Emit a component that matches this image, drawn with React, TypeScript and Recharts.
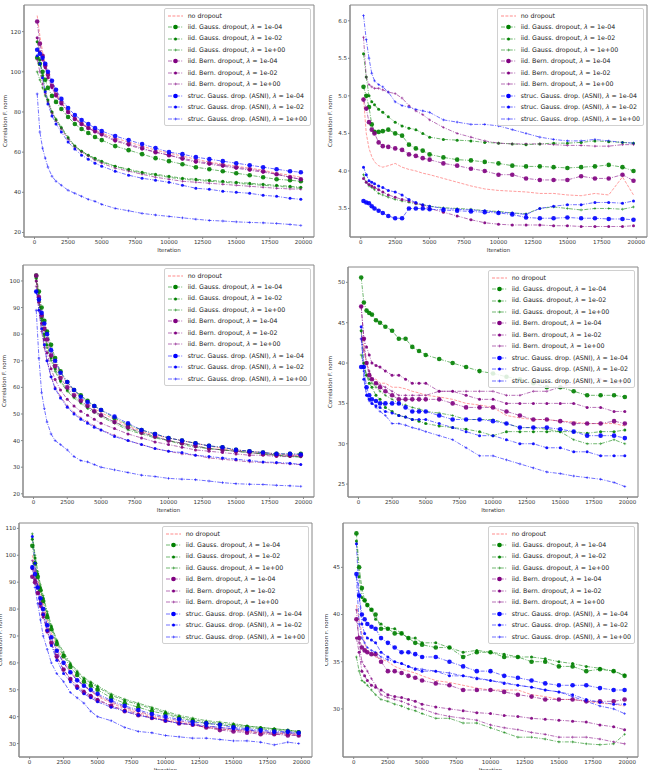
import { LineChart, Line, XAxis, YAxis, ReferenceArea, Legend } from "recharts";

const FONT = "'DejaVu Sans', sans-serif";

// iteration grid shared by every panel
const iterations = [200, 400, 600, 800, 1000, 1300, 1600, 2000, 2500, 3000, 3500, 4000, 4500, 5000, 6000, 7000, 8000, 9000, 10000, 11000, 12000, 13000, 14000, 15000, 16000, 17000, 18000, 19000, 19800];
const xTicks = [0, 2500, 5000, 7500, 10000, 12500, 15000, 17500, 20000];

const seriesKeys = ["noDrop", "g1e4", "g1e2", "g1e0", "b1e4", "b1e2", "b1e0", "s1e4", "s1e2", "s1e0"];
const seriesNames = [
  "no dropout",
  "iid. Gauss. dropout, λ = 1e-04",
  "iid. Gauss. dropout, λ = 1e-02",
  "iid. Gauss. dropout, λ = 1e+00",
  "iid. Bern. dropout, λ = 1e-04",
  "iid. Bern. dropout, λ = 1e-02",
  "iid. Bern. dropout, λ = 1e+00",
  "struc. Gauss. drop. (ASNI), λ = 1e-04",
  "struc. Gauss. drop. (ASNI), λ = 1e-02",
  "struc. Gauss. drop. (ASNI), λ = 1e+00",
];
const seriesColors = ["#ff3030", "#008000", "#008000", "#008000", "#800080", "#800080", "#800080", "#0000ff", "#0000ff", "#0000ff"];
const seriesMarkers = ["none", "big", "mid", "plus", "big", "mid", "plus", "big", "mid", "plus"];

// top left
const tlValues = [
  [128, 118, 110, 104, 99, 94, 89.5, 85, 80, 77, 74.5, 72.5, 71, 69.5, 67, 65, 63, 61, 59.5, 58, 56.5, 55, 54, 53, 52, 51, 49.5, 48.5, 47.5],
  [107, 104, 100, 96, 92, 88, 85, 81.5, 77.5, 74, 71.5, 69.5, 67.5, 66, 63, 61, 59, 57, 55.5, 54, 52.5, 51.5, 50.5, 49.5, 48.5, 47.5, 46.5, 46, 45.5],
  [115, 106, 98, 91, 86, 80, 76, 72, 67, 63, 60.5, 58.5, 57, 55.5, 53, 51.5, 50, 49, 48, 47, 46.5, 46, 45.5, 45, 44.5, 44, 43.5, 43, 42.5],
  [100, 96, 92, 88, 85, 80, 76.5, 72.5, 67.5, 63, 60.5, 58.5, 56.5, 55, 53, 51, 49.5, 48.5, 47.5, 46.5, 46, 45.5, 45, 44.5, 44, 43.5, 43, 42.5, 42],
  [125, 114, 108, 103, 98.5, 93, 88.5, 84.5, 80, 76.5, 74, 72, 70.5, 69, 66, 64, 62, 60, 58.5, 57, 55.5, 54.5, 53.5, 52.5, 51.5, 50.5, 49, 47.5, 46.5],
  [117, 110, 106, 102, 97, 92, 88, 84, 80, 76.5, 74, 72, 70, 68.5, 65.5, 63.5, 61.5, 60, 58.5, 56.5, 55, 54, 53, 52, 51, 50, 49, 47.5, 46.5],
  [106, 100, 94, 89, 85, 79.5, 75.5, 71.5, 66.5, 62.5, 60, 58, 56, 54.5, 52, 50.5, 49, 47.5, 46.5, 45.5, 45, 44.5, 44, 43.5, 43, 42.5, 42, 41.7, 41.5],
  [111, 109, 107, 104, 100, 95.5, 91, 86.5, 82, 78.5, 76, 74, 72, 70.5, 68, 66, 64, 62, 60, 59, 57.5, 56.5, 55.5, 54.5, 53.5, 52.5, 51.5, 50.5, 50],
  [108, 104, 97, 90, 84, 78, 74, 70, 65, 61.5, 58.5, 56.5, 54.5, 53, 50.5, 48.5, 47, 46, 45, 43.5, 42, 41.5, 40.5, 40, 39.5, 38.5, 38, 37, 36.5],
  [89, 70, 62, 57, 52.5, 48, 45.5, 43.5, 41, 39.5, 38, 36.5, 35.5, 34, 32, 30.8, 29.5, 28.7, 28, 27.3, 26.6, 26, 25.7, 25.3, 25, 24.8, 24.5, 24, 23.5],
];

// top right
const trValues = [
  [4.98, 4.5, 4.3, 4.19, 4.12, 4.07, 4.05, 4.07, 4.1, 4.05, 4.02, 4.0, 3.97, 3.95, 3.9, 3.85, 3.8, 3.76, 3.74, 3.73, 3.72, 3.7, 3.7, 3.68, 3.67, 3.7, 3.68, 3.92, 3.68],
  [5.12, 5.0, 4.85, 4.62, 4.52, 4.52, 4.53, 4.55, 4.5, 4.47, 4.35, 4.3, 4.27, 4.22, 4.18, 4.15, 4.14, 4.12, 4.1, 4.07, 4.06, 4.06, 4.05, 4.04, 4.05, 4.06, 4.08, 4.05, 4.0],
  [5.56, 5.25, 5.0, 4.92, 4.88, 4.82, 4.78, 4.72, 4.65, 4.6, 4.57, 4.55, 4.5, 4.45, 4.42, 4.41, 4.4, 4.38, 4.37, 4.36, 4.35, 4.36, 4.37, 4.37, 4.38, 4.4, 4.39, 4.38, 4.37],
  [3.95, 3.85, 3.8, 3.78, 3.75, 3.7, 3.68, 3.65, 3.62, 3.6, 3.58, 3.56, 3.55, 3.53, 3.51, 3.5, 3.49, 3.47, 3.46, 3.44, 3.43, 3.5, 3.52, 3.5, 3.48, 3.5, 3.5, 3.49, 3.52],
  [4.95, 4.83, 4.65, 4.55, 4.5, 4.38, 4.33, 4.32, 4.3, 4.28, 4.22, 4.2, 4.17, 4.15, 4.1, 4.07, 4.03, 4.0, 3.95, 3.95, 3.9, 3.88, 3.88, 3.88, 3.93, 3.9, 3.9, 3.95, 3.87],
  [3.9, 3.85, 3.82, 3.8, 3.78, 3.75, 3.72, 3.68, 3.65, 3.62, 3.6, 3.57, 3.54, 3.5, 3.45, 3.4, 3.35, 3.31, 3.29, 3.28, 3.28, 3.28, 3.27, 3.27, 3.26, 3.26, 3.26, 3.26, 3.27],
  [5.78, 5.25, 5.15, 5.12, 5.1, 5.1, 5.08, 5.05, 5.03, 4.97, 4.87, 4.8, 4.75, 4.68, 4.58, 4.5, 4.45, 4.4, 4.37, 4.36, 4.36, 4.36, 4.35, 4.34, 4.34, 4.33, 4.33, 4.35, 4.35],
  [3.6, 3.58, 3.57, 3.53, 3.5, 3.47, 3.44, 3.4, 3.37, 3.37, 3.5, 3.5, 3.5, 3.49, 3.48, 3.47, 3.46, 3.45, 3.44, 3.42, 3.38, 3.37, 3.37, 3.38, 3.37, 3.37, 3.36, 3.36, 3.35],
  [4.05, 3.95, 3.87, 3.85, 3.83, 3.8, 3.78, 3.74, 3.72, 3.68, 3.62, 3.58, 3.55, 3.53, 3.5, 3.49, 3.48, 3.47, 3.45, 3.44, 3.42, 3.5, 3.53, 3.55, 3.55, 3.58, 3.58, 3.57, 3.6],
  [6.07, 5.75, 5.5, 5.3, 5.2, 5.15, 5.12, 5.05, 4.92, 4.87, 4.85, 4.82, 4.8, 4.78, 4.68, 4.65, 4.62, 4.62, 4.6, 4.55, 4.5, 4.45, 4.42, 4.4, 4.4, 4.42, 4.4, 4.38, 4.37],
];

// middle left
const mlValues = [
  [101, 95, 88, 84, 80, 74, 70, 65, 61.5, 58.5, 56, 54, 52, 50.5, 48, 45.5, 43.5, 42, 41, 40, 39, 38, 37, 36.5, 36, 35.5, 35, 34.5, 34.5],
  [102, 96, 90, 85, 81, 76, 71, 66, 62, 59, 57, 55, 53, 51.5, 48.5, 46, 44, 42.5, 41, 40, 39, 38, 37.5, 36.5, 36, 35.5, 35, 35, 35],
  [101, 93, 86, 80, 76, 71, 67, 62.5, 59, 56.5, 54.5, 52.5, 51, 49.5, 47, 44.5, 43, 41.5, 40, 39, 38, 37, 36.5, 36, 35.5, 35, 34.5, 34, 34],
  [100, 92, 85, 79, 75, 70, 66, 62, 58.5, 56, 54, 52, 50.5, 49, 46.5, 44, 42.5, 41, 40, 38.5, 37.5, 37, 36.5, 36, 35.5, 35, 34.5, 34, 33.8],
  [102, 94, 87, 82, 78, 72, 68, 63.5, 60, 57, 55, 53, 51, 49.5, 47, 45, 43, 41.5, 40, 39, 38, 37, 36.5, 36, 35.5, 35, 34.5, 34.5, 34.5],
  [100, 92, 84, 78, 73, 67, 63, 59, 55.5, 53, 51, 49.5, 48, 46.5, 44.5, 42.5, 41, 39.5, 38.5, 37.5, 36.5, 36, 35.5, 35, 34.5, 34.5, 34, 34, 34],
  [98, 89, 81, 75, 70, 64, 60, 56.5, 53, 50.5, 48.5, 47, 45.5, 44, 42, 40, 38.5, 37, 36, 35, 34.5, 33.5, 33, 32.5, 32, 31.8, 31.5, 31.2, 31],
  [96, 93, 88, 84, 80, 74, 70, 65.5, 62, 59, 56.5, 54.5, 53, 51.5, 49, 46.5, 44, 42.5, 41, 40, 39, 38, 37.5, 36.5, 36, 35.5, 35, 35, 34.8],
  [96, 89, 82, 76, 70, 64, 59.5, 56, 52.5, 50, 48, 46.5, 45, 44, 41.5, 40, 38.5, 37, 36, 35.5, 34.5, 34, 33.5, 33, 32.5, 32, 31.8, 31.5, 31],
  [89, 71, 58, 52, 47, 42.5, 40, 38.5, 36.5, 34, 32.5, 32, 31, 30, 29, 28, 27, 26.5, 25.8, 25.5, 25.3, 24.8, 24.2, 23.8, 23.6, 23.5, 23.2, 23, 22.8],
];

// middle right
const mrValues = [
  [44, 42, 40, 39, 38, 38, 37.5, 37.5, 37, 37, 36.8, 36.5, 36.3, 36, 35.8, 35.5, 35, 34.8, 34.5, 33.5, 33.2, 33, 33, 32.8, 32.7, 32.5, 32.5, 32.5, 32.2],
  [50.6, 47.5, 46.5, 46.2, 46, 45.3, 45, 44.5, 44, 43, 43, 42, 41.5, 41, 40.5, 40, 39.5, 39, 38.7, 38.3, 38, 37.5, 37, 37, 36.5, 36, 36, 36, 35.8],
  [44, 40, 38.5, 37.5, 37, 36, 35.5, 34.5, 34, 33.5, 33.3, 33, 32.8, 32.5, 32.2, 32, 31.8, 31.5, 31, 31.5, 31.5, 31.5, 31.5, 31.5, 31.5, 31.3, 31.5, 31.5, 31.7],
  [41, 39.5, 38.5, 38, 37.5, 37, 36.5, 36, 35.5, 35, 34.8, 34.5, 34.3, 34, 33.8, 33.5, 33, 33, 33, 32.5, 32, 32, 31.8, 31.5, 30.5, 30, 30, 30.5, 30],
  [47, 43, 40, 38.5, 38, 37.5, 37, 36.5, 36, 35.5, 35.5, 35.5, 35.5, 35.5, 35.5, 35, 34.5, 34.5, 34.5, 34, 33.5, 33, 33, 32.8, 32.5, 32.5, 32.5, 32.8, 32.5],
  [47, 43, 42, 41, 40, 39.7, 39.5, 39, 38.5, 38.5, 38, 37.5, 37.5, 37.5, 36.5, 36.5, 36, 35.5, 35.5, 35, 35, 35, 35, 35, 35, 34.5, 34.5, 34, 34],
  [43, 41.5, 40, 39, 38, 37.5, 37.3, 37, 36.5, 36, 36, 36, 36, 36, 36.5, 36.5, 36.5, 36.5, 36.5, 36, 36, 36.5, 36.5, 37, 37.5, 38, 38, 37.5, 37.5],
  [39.5, 39.5, 37, 36, 35.5, 35.3, 35, 35, 35, 35, 34.5, 34, 34, 34, 33.5, 33, 33, 33, 32.8, 32.5, 32, 32, 32, 31.8, 31.5, 31, 31, 31, 30.7],
  [44.5, 38, 36, 35.5, 35, 34.7, 34.5, 34, 33.8, 33.5, 33.3, 33, 33, 33, 32.5, 32, 31.5, 31, 31, 30.5, 30, 30, 29.5, 29.5, 29, 29, 28.5, 28.5, 28.5],
  [43, 39, 36, 35.3, 35, 34.5, 34, 33.5, 32.5, 32.5, 32.3, 32, 31.8, 31.5, 31, 30.5, 29.5, 28.5, 28.5, 28, 27.5, 27, 26.5, 26.3, 26, 25.8, 25.6, 25.2, 24.7],
];

// bottom left
const blValues = [
  [100, 96, 91, 86, 82, 76, 71, 66, 61, 57, 54, 51.5, 49.5, 47.5, 45, 43, 41.5, 40, 38.8, 38, 37, 36, 35.5, 35, 34.5, 34, 34, 33.5, 33.5],
  [103.5, 97, 92, 87, 83, 77, 72.5, 67, 62.5, 58.5, 55.5, 53, 51.5, 50, 47, 45, 43.5, 42, 41, 39.5, 38.5, 37.5, 37, 36.5, 36, 35.5, 35, 34.5, 34.2],
  [106, 99, 93, 88, 84, 78, 73.5, 68, 63, 59.5, 56.5, 54, 52.5, 51, 48, 46, 44.5, 43, 41.5, 40, 39, 38, 37.5, 37, 36.5, 36, 35.5, 35, 34.5],
  [108, 100, 94, 89, 85, 79, 74, 68.5, 64, 60, 57, 54.5, 53, 51.5, 48.5, 46.5, 45, 43.5, 42, 40.5, 39.5, 38.5, 38, 37.5, 36.5, 36, 35.5, 35, 34.5],
  [92, 90, 86, 82, 78, 72, 67.5, 62.5, 57.5, 54, 51, 49, 47.5, 46, 44, 42, 40.5, 39.5, 38.5, 37.5, 37, 36, 35, 34.5, 34, 33.5, 33.5, 33, 33],
  [95, 91, 86, 81, 77, 71.5, 67, 62, 57.5, 54, 51.5, 49.5, 48, 46.5, 44, 42.5, 41, 39.5, 38.5, 37.5, 37, 36, 35.5, 35, 34.5, 34, 33.5, 33.5, 33],
  [98, 94, 89, 84, 80, 74, 69.5, 64.5, 60, 56.5, 53.5, 51.5, 49.5, 48, 45.5, 43.5, 42, 40.5, 39.5, 38.5, 37.5, 36.5, 36, 35.5, 35, 34.5, 34, 34, 33.5],
  [95.5, 93, 88, 84, 80, 74, 69.5, 64.5, 60, 56.5, 53.5, 51.5, 50, 48.5, 46, 44, 42.5, 41, 40, 39, 38, 37.5, 37, 36, 35.5, 35, 34.5, 34.5, 34],
  [107, 97, 88, 82, 78, 72, 66.5, 61, 56, 53, 50.5, 48.5, 47, 45.5, 43.5, 42, 40.5, 39.5, 38.5, 37.5, 37, 36.5, 36, 35.5, 35, 34.5, 34, 34, 33.8],
  [96, 88, 82, 76, 70, 65, 60, 56, 53, 49, 47, 45, 42, 40, 38.5, 36, 34.5, 34, 33, 32.5, 32, 32, 31.5, 31, 31, 30.5, 29.5, 30.5, 30],
];

// bottom right
const brValues = [
  [41, 39.5, 38, 37, 36, 35.8, 35.5, 35.3, 35, 34.5, 34.2, 34, 33.8, 33.5, 33, 32.8, 32.5, 32.2, 32, 32, 32, 31.5, 31.3, 31, 31, 30.8, 30.6, 30.5, 30.3],
  [48.6, 45, 42.8, 41.5, 41, 40.5, 40, 38.5, 38.5, 38, 38, 37.5, 37, 36.8, 36.5, 36.5, 35.5, 36, 36, 35.5, 35.5, 35, 35, 34.5, 34.5, 34, 34.2, 34, 33.5],
  [47.8, 44, 41.8, 41.5, 41, 40.5, 39.5, 39, 38.5, 38.5, 38, 37.5, 37.5, 37, 37, 36.5, 36, 36.2, 36, 35.8, 35.5, 35.5, 35.3, 35, 34.8, 34.5, 34.3, 34, 33.6],
  [35.5, 34, 33, 32.8, 32.5, 32, 31.5, 31, 30.8, 30.5, 30.3, 30, 29.8, 29.5, 29, 29, 28.5, 28.5, 28, 27.5, 27, 27, 26.8, 26.5, 26.5, 26.3, 26.2, 26.3, 27.3],
  [39.5, 37.5, 36.5, 36.2, 36, 35.8, 35.8, 35, 34, 34, 33.8, 33.5, 33.3, 33, 32.7, 32.5, 32, 32, 32, 31.8, 31.5, 31.3, 31, 31, 31, 30.8, 30.8, 30.8, 31],
  [37.5, 36, 34, 33.5, 33, 32.5, 32.3, 32, 31.5, 31.3, 31.2, 31, 30.8, 30.5, 30.2, 30, 29.8, 29.6, 29.5, 29.3, 29.2, 29, 28.9, 28.8, 28.7, 28.6, 28.3, 28.1, 27.8],
  [40.5, 37, 35, 34.5, 34, 33.2, 32.5, 31.5, 31.2, 31, 30.8, 30.5, 30.2, 30, 29.5, 29.2, 29, 28.8, 28.3, 28, 27.8, 27.5, 27.3, 27, 27, 27, 26.8, 26.5, 26.3],
  [44.3, 42, 40, 39.5, 39, 38.7, 38.5, 37.5, 37, 36.5, 36, 36, 35.8, 35.5, 35.5, 35, 34.5, 34, 34, 33.5, 33.3, 33, 32.7, 32.5, 32.5, 32.5, 32.2, 32, 32],
  [47.5, 42, 39, 38, 37.5, 37.3, 37, 36, 35.5, 35, 34.8, 34.5, 34.2, 34, 34, 33.5, 33.5, 33.2, 33, 32.7, 32.5, 32.3, 32, 31.8, 31.5, 31, 30.7, 30.5, 30.5],
  [44, 39, 37.5, 37, 36.5, 36.2, 36, 35.5, 35.2, 35, 34.8, 34.5, 34.3, 34.2, 34, 33.8, 33.5, 33.3, 33, 32.8, 32.5, 32.3, 32, 31.8, 31.3, 30.8, 30.3, 30, 29.5],
];

const panels = [
  { values: tlValues, left: 0, top: 0, width: 325, boxL: 24, boxR: 314, boxT: 5, boxB: 237, yDomain: [17.75, 133.25], yTicks: [20, 40, 60, 80, 100, 120], dec: 0, labelX: 5 },
  { values: trValues, left: 325, top: 0, width: 324, boxL: 25, boxR: 322, boxT: 5, boxB: 237, yDomain: [3.12, 6.21], yTicks: [3.5, 4.0, 4.5, 5.0, 5.5, 6.0], dec: 1, labelX: 5 },
  { values: mlValues, left: 0, top: 258, width: 325, boxL: 23, boxR: 314, boxT: 7, boxB: 239, yDomain: [18.8, 106], yTicks: [20, 30, 40, 50, 60, 70, 80, 90, 100], dec: 0, labelX: 4 },
  { values: mrValues, left: 325, top: 258, width: 324, boxL: 23, boxR: 313, boxT: 9, boxB: 239, yDomain: [23.4, 51.9], yTicks: [25, 30, 35, 40, 45, 50], dec: 0, labelX: 5 },
  { values: blValues, left: 0, top: 515, width: 325, boxL: 19, boxR: 312, boxT: 8, boxB: 242, yDomain: [25, 112], yTicks: [30, 40, 50, 60, 70, 80, 90, 100, 110], dec: 0, labelX: 0 },
  { values: brValues, left: 325, top: 515, width: 324, boxL: 18, boxR: 313, boxT: 8, boxB: 242, yDomain: [24.9, 49.7], yTicks: [30, 35, 40, 45], dec: 0, labelX: 1 },
];

const xDomain = [-780, 20780];

function dashFor(i: number) {
  return i === 0 ? "3 1.4" : "4 1.4 1 1.4";
}

function makeDot(kind: string, color: string) {
  if (kind === "none") return false;
  return (p: any) => {
    const { cx, cy, index } = p;
    if (cx == null || cy == null || Number.isNaN(cy)) return <g key={index} />;
    if (kind === "plus") {
      return (
        <path key={index} d={`M${cx - 1.4},${cy}H${cx + 1.4}M${cx},${cy - 1.4}V${cy + 1.4}`} stroke={color} strokeOpacity={0.7} strokeWidth={0.7} />
      );
    }
    return <circle key={index} cx={cx} cy={cy} r={kind === "big" ? 2.3 : 1.5} fill={color} fillOpacity={0.9} />;
  };
}

function renderName(name: string) {
  const parts = name.split("λ");
  if (parts.length < 2) return name;
  return (
    <>
      {parts[0]}
      <i>λ</i>
      {parts[1]}
    </>
  );
}

function LegendBox() {
  return (
    <div
      style={{
        background: "rgba(255,255,255,0.85)",
        border: "1px solid #d0d0d0",
        borderRadius: 2,
        padding: "1px 3px",
        fontFamily: FONT,
        fontSize: 6.3,
        color: "#222",
        lineHeight: 1,
      }}
    >
      {seriesNames.map((n, i) => (
        <div key={n} style={{ display: "flex", alignItems: "center", height: 11.45, whiteSpace: "nowrap" }}>
          <svg width={15} height={6} style={{ marginRight: 5, flex: "none" }}>
            <line x1={0} y1={3} x2={15} y2={3} stroke={seriesColors[i]} strokeOpacity={0.7} strokeWidth={0.8} strokeDasharray={dashFor(i)} />
            {seriesMarkers[i] === "big" && <circle cx={7.5} cy={3} r={2.3} fill={seriesColors[i]} />}
            {seriesMarkers[i] === "mid" && <circle cx={7.5} cy={3} r={1.5} fill={seriesColors[i]} />}
            {seriesMarkers[i] === "plus" && (
              <path d="M6.1,3H8.9M7.5,1.6V4.4" stroke={seriesColors[i]} strokeOpacity={0.7} strokeWidth={0.7} />
            )}
          </svg>
          <span>{renderName(n)}</span>
        </div>
      ))}
    </div>
  );
}

function Panel({ cfg }: { cfg: (typeof panels)[number] }) {
  const rows = iterations.map((it, i) => {
    const row: Record<string, number | null> = { it };
    seriesKeys.forEach((k, j) => {
      const v = cfg.values[j][i];
      row[k] = v == null ? null : v;
    });
    return row;
  });
  const height = cfg.boxB + 15;
  const tickStyle = { fontSize: 5.5, fill: "#333", fontFamily: FONT };

  return (
    <div style={{ position: "absolute", left: cfg.left, top: cfg.top }}>
      <LineChart
        width={cfg.width}
        height={height}
        data={rows}
        margin={{ top: cfg.boxT, right: cfg.width - cfg.boxR, bottom: 0, left: 0 }}
      >
        <XAxis
          type="number"
          dataKey="it"
          domain={xDomain}
          ticks={xTicks}
          interval={0}
          allowDataOverflow
          height={15}
          tickSize={2}
          tickMargin={1}
          stroke="#888"
          tick={tickStyle}
          label={{ value: "Iteration", position: "insideBottom", offset: 0, fontSize: 5.5, fill: "#333", fontFamily: FONT }}
        />
        <YAxis
          type="number"
          domain={cfg.yDomain}
          ticks={cfg.yTicks}
          interval={0}
          allowDataOverflow
          width={cfg.boxL}
          tickSize={2}
          tickMargin={1}
          stroke="#888"
          tick={tickStyle}
          tickFormatter={(v: number) => v.toFixed(cfg.dec)}
          label={{
            value: "Correlation F. norm",
            angle: -90,
            position: "insideLeft",
            offset: cfg.labelX,
            fontSize: 5.5,
            fill: "#333",
            fontFamily: FONT,
            style: { textAnchor: "middle" },
          }}
        />
        <ReferenceArea
          x1={xDomain[0]}
          x2={xDomain[1]}
          y1={cfg.yDomain[0]}
          y2={cfg.yDomain[1]}
          fill="none"
          stroke="#888"
          strokeWidth={1}
          ifOverflow="visible"
        />
        {seriesKeys.map((k, i) => (
          <Line
            key={k}
            dataKey={k}
            name={seriesNames[i]}
            type="linear"
            stroke={seriesColors[i]}
            strokeOpacity={i === 0 ? 0.6 : 0.7}
            strokeWidth={0.8}
            strokeDasharray={dashFor(i)}
            dot={makeDot(seriesMarkers[i], seriesColors[i])}
            activeDot={false}
            isAnimationActive={false}
          />
        ))}
        <Legend
          layout="vertical"
          align="center"
          verticalAlign="middle"
          content={() => <LegendBox />}
          wrapperStyle={{ left: "auto", right: cfg.width - cfg.boxR + 3, top: cfg.boxT + 3, width: "auto" }}
        />
      </LineChart>
    </div>
  );
}

export default function App() {
  return (
    <div style={{ position: "absolute", left: 0, top: 0, width: 649, height: 770, background: "#fff", overflow: "hidden" }}>
      {panels.map((p, i) => (
        <Panel key={i} cfg={p} />
      ))}
    </div>
  );
}
